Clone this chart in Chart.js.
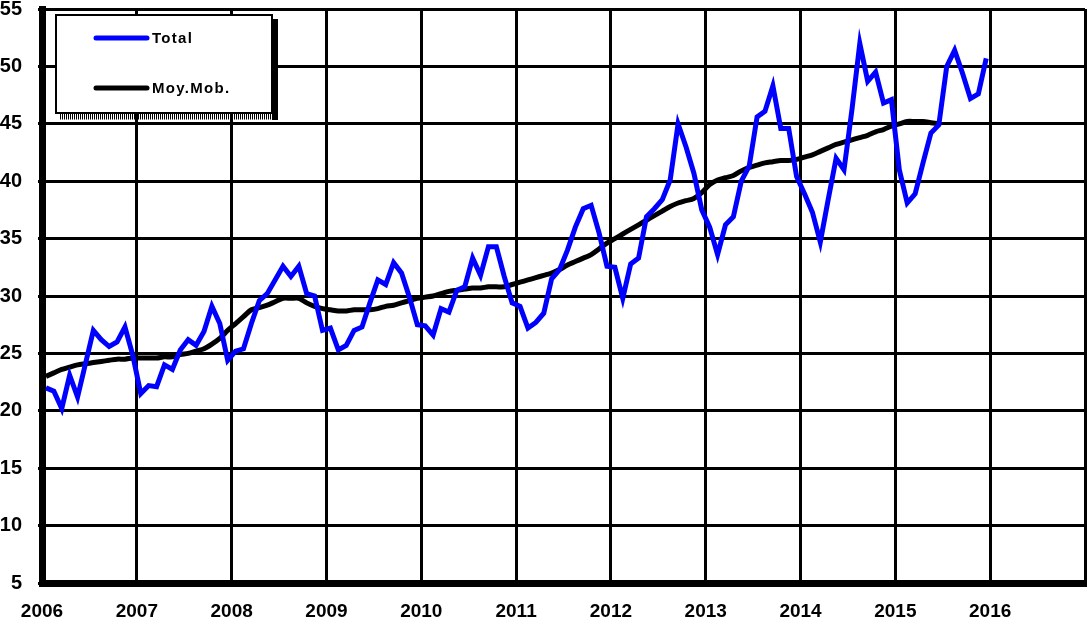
<!DOCTYPE html>
<html>
<head>
<meta charset="utf-8">
<script src="https://cdn.jsdelivr.net/npm/chart.js@4.4.0/dist/chart.umd.min.js"></script>
<style>
  html, body { margin: 0; padding: 0; background: #fff; }
  #wrap { width: 1092px; height: 630px; }
</style>
</head>
<body>
<div id="wrap"><canvas id="chart" width="1092" height="630"></canvas></div>
<script>
// monthly values, Jan 2006 .. Dec 2015
const firstYear = 2006;
const lastYear = 2017;
const yMin = 5;
const yMax = 55;
const yStep = 5;

const total = [
  22.0, 21.7, 20.2, 23.1, 21.2, 24.1, 27.0, 26.2, 25.6, 26.0, 27.3, 24.8,
  21.5, 22.2, 22.1, 24.0, 23.6, 25.3, 26.2, 25.7, 26.9, 29.1, 27.6, 24.4,
  25.2, 25.4, 27.6, 29.6, 30.2, 31.4, 32.6, 31.7, 32.6, 30.2, 30.0, 27.0,
  27.2, 25.3, 25.7, 27.0, 27.3, 29.4, 31.4, 31.0, 32.9, 32.0, 29.9, 27.5,
  27.4, 26.6, 28.9, 28.6, 30.5, 30.8, 33.3, 31.8, 34.3, 34.3, 31.7, 29.4,
  29.1, 27.2, 27.7, 28.5, 31.5, 32.3, 34.0, 36.0, 37.6, 37.9, 35.5, 32.6,
  32.5, 29.8, 32.8, 33.3, 36.9, 37.6, 38.4, 40.1, 45.0, 43.0, 40.7, 37.5,
  36.0, 33.6, 36.2, 36.9, 40.0, 41.3, 45.6, 46.1, 48.3, 44.6, 44.6, 40.4,
  38.9, 37.3, 34.7, 38.4, 42.0, 41.0, 46.2, 52.0, 48.7, 49.5, 46.8, 47.1,
  41.0, 38.1, 38.9, 41.6, 44.2, 44.9, 50.0, 51.4, 49.4, 47.2, 47.6, 50.7
];

// moving average, Jan 2006 .. Jun 2015
const moyMob = [
  23.0, 23.3, 23.6, 23.8, 24.0, 24.1, 24.2, 24.3, 24.4, 24.5, 24.5, 24.6,
  24.6, 24.6, 24.6, 24.7, 24.7, 24.9, 25.0, 25.2, 25.4, 25.8, 26.3, 27.0,
  27.6, 28.2, 28.8, 29.0, 29.2, 29.5, 29.8, 29.8, 29.8, 29.4, 29.1, 28.9,
  28.8, 28.7, 28.7, 28.8, 28.8, 28.8, 28.9, 29.1, 29.2, 29.4, 29.6, 29.8,
  29.9, 30.0, 30.2, 30.4, 30.5, 30.6, 30.7, 30.7, 30.8, 30.8, 30.8, 31.0,
  31.2, 31.4, 31.6, 31.8, 32.0, 32.3, 32.7, 33.0, 33.3, 33.6, 34.1, 34.6,
  35.0, 35.4, 35.8, 36.2, 36.6, 37.0, 37.4, 37.8, 38.1, 38.3, 38.5, 39.0,
  39.7, 40.1, 40.3, 40.5, 40.9, 41.2, 41.4, 41.6, 41.7, 41.8, 41.8, 41.9,
  42.1, 42.3, 42.6, 42.9, 43.2, 43.4, 43.6, 43.8, 44.0, 44.3, 44.5, 44.8,
  45.0, 45.2, 45.2, 45.2, 45.1, 45.0
];

const seriesLabels = ['Total', 'Moy.Mob.'];
const seriesColors = ['#0000ff', '#000000'];

// each month sits in the middle of its slot
function toPoints(values) {
  return values.map((v, i) => ({ x: i + 0.5, y: v }));
}

const legendBox = {
  id: 'legendBox',
  afterDraw(chart) {
    const ctx = chart.ctx;
    ctx.save();
    // shadow
    ctx.fillStyle = '#000';
    ctx.fillRect(272, 19, 6, 101);
    ctx.strokeStyle = '#000';
    ctx.lineWidth = 6;
    ctx.setLineDash([1, 1]);
    ctx.beginPath();
    ctx.moveTo(60, 116.5);
    ctx.lineTo(273, 116.5);
    ctx.stroke();
    ctx.setLineDash([]);
    // box
    ctx.fillStyle = '#fff';
    ctx.fillRect(56, 15, 216, 98);
    ctx.lineWidth = 2;
    ctx.strokeRect(56, 15, 216, 98);
    // entries
    ctx.font = 'bold 15px "Liberation Sans", Arial, sans-serif';
    ctx.letterSpacing = '1.3px';
    ctx.textBaseline = 'middle';
    ctx.lineCap = 'round';
    chart.data.datasets.forEach((ds, i) => {
      const y = 38 + i * 50;
      ctx.strokeStyle = ds.borderColor;
      ctx.lineWidth = 5;
      ctx.beginPath();
      ctx.moveTo(96, y);
      ctx.lineTo(147, y);
      ctx.stroke();
      ctx.fillStyle = '#000';
      ctx.fillText(ds.label, 152, y + 1);
    });
    ctx.restore();
  }
};

new Chart(document.getElementById('chart'), {
  type: 'line',
  data: {
    datasets: [{
      label: seriesLabels[0],
      data: toPoints(total),
      borderColor: seriesColors[0],
      borderWidth: 5,
      pointRadius: 0,
      tension: 0,
      fill: false
    }, {
      label: seriesLabels[1],
      data: toPoints(moyMob),
      borderColor: seriesColors[1],
      borderWidth: 5,
      pointRadius: 0,
      tension: 0.3,
      fill: false
    }]
  },
  options: {
    responsive: false,
    animation: false,
    devicePixelRatio: 1,
    layout: {
      padding: { top: 9, right: 7, left: 0, bottom: 0 }
    },
    plugins: {
      legend: { display: false },
      tooltip: { enabled: false }
    },
    scales: {
      x: {
        type: 'linear',
        min: 0,
        max: (lastYear - firstYear) * 12,
        afterFit: function(scale) {
          scale.height = 47;
          scale.paddingLeft = 0;
          scale.paddingRight = 0;
        },
        grid: {
          color: '#000',
          lineWidth: 3,
          drawTicks: false
        },
        border: { color: '#000', width: 7 },
        ticks: {
          stepSize: 12,
          autoSkip: false,
          maxRotation: 0,
          padding: 17,
          color: '#000',
          font: { family: '"Liberation Sans", Arial', size: 19, weight: 'bold' },
          callback: function(value) {
            const year = firstYear + value / 12;
            return year < lastYear ? String(year) : '';
          }
        }
      },
      y: {
        min: yMin,
        max: yMax,
        afterFit: function(scale) {
          scale.width = 42;
          scale.paddingTop = 0;
          scale.paddingBottom = 0;
        },
        grid: {
          color: '#000',
          lineWidth: 3,
          tickLength: 4
        },
        border: { color: '#000', width: 7 },
        ticks: {
          stepSize: yStep,
          padding: 16,
          color: '#000',
          font: { family: '"Liberation Sans", Arial', size: 20, weight: 'bold' }
        }
      }
    }
  },
  plugins: [legendBox]
});
</script>
</body>
</html>
